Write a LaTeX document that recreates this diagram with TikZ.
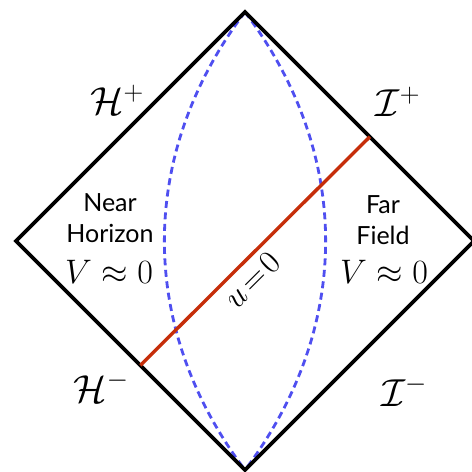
\RequirePackage{fix-cm}
\documentclass[tikz,border=0pt]{standalone}
\usepackage{amsmath}
\usepackage{fontspec}
\setsansfont{Lato}
\usepackage{tikz}
\usetikzlibrary{calc,positioning}
\definecolor{nullray}{HTML}{C62E0A}
\definecolor{shell}{HTML}{4F4FF0}

\begin{document}
\begin{tikzpicture}[x=1pt,y=1pt,
  edge/.style={line width=3.6pt,line join=miter},
  shellline/.style={draw=shell,line width=2.8pt,dash pattern=on 7pt off 4.5pt},
  region/.style={align=center,inner sep=0pt,font=\sffamily\fontsize{25}{31}\selectfont},
  bound/.style={inner sep=0pt,font=\fontsize{34}{40}\selectfont},
  corner/.style={inner sep=0pt,font=\fontsize{39}{44}\selectfont}]
\useasboundingbox (0,0) rectangle (472,472);
\coordinate (top) at (245,460);
\coordinate (left) at (16,231);
\coordinate (right) at (474,231);
\coordinate (bottom) at (245,2);
% surfaces of constant radius
\draw[shellline] (top) to[bend right=37] (bottom);
\draw[shellline] (top) to[bend left=37] (bottom);
% boundary of the diagram
\draw[edge] (top) -- (right) -- (bottom) -- (left) -- cycle;
% null ray
\coordinate (hmin) at ($(left)!0.543!(bottom)$);
\coordinate (iplus) at ($(top)!0.545!(right)$);
\draw[nullray,line width=3.4pt] (hmin) -- (iplus)
  node[pos=0.43,sloped,below=6pt,inner sep=0pt,text=black,font=\fontsize{33}{40}\selectfont] (ulabel) {$u\!=\!0$};
% horizons and null infinity
\node[corner] (hplus) at (117,372) {$\mathcal{H}^+$};
\node[corner] (scriplus) at (398,370) {$\mathcal{I}^+$};
\node[corner] (hminus) at (101,85) {$\mathcal{H}^-$};
\node[corner] (scriminus) at (404,81) {$\mathcal{I}^-$};
% regions
\node[region] (near) at (110,254) {Near\\Horizon};
\node[bound] (nearv) at (109,200) {$V\approx0$};
\node[region] (far) at (383,252) {Far\\Field};
\node[bound] (farv) at (384,200) {$V\approx0$};
\end{tikzpicture}
\end{document}
